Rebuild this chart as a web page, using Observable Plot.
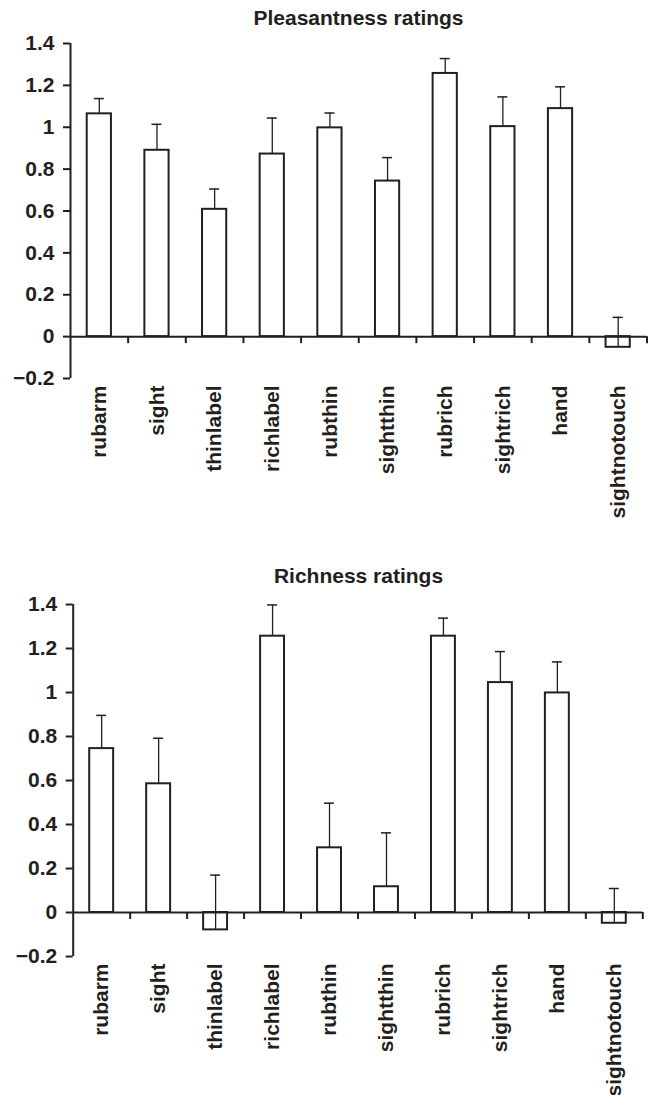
<!DOCTYPE html>
<html>
<head>
<meta charset="utf-8">
<script src="https://cdn.jsdelivr.net/npm/d3@7"></script>
<script src="https://cdn.jsdelivr.net/npm/@observablehq/plot@0.6"></script>
<style>
  html, body { margin: 0; padding: 0; background: #fff; }
  #page { position: relative; width: 649px; height: 1095px; overflow: hidden; background: #fff; }
  .title { position: absolute; left: 70px; width: 577px; text-align: center; z-index: 2;
           font-family: "Liberation Sans", Arial, sans-serif; font-weight: bold;
           font-size: 21px; line-height: 21px; color: #231f20; }
  .chart { position: absolute; left: 0; z-index: 1; }
</style>
</head>
<body>
<div id="page">
  <div class="chart" id="c1" style="top:0px"></div>
  <div class="chart" id="c2" style="top:550px"></div>
  <div class="title" id="t1" style="top:7px"></div>
  <div class="title" id="t2" style="top:565px"></div>
</div>
<script>
const categories = ["rubarm", "sight", "thinlabel", "richlabel", "rubthin", "sightthin", "rubrich", "sightrich", "hand", "sightnotouch"];

const pleasantness      = [1.064, 0.890, 0.608, 0.872, 0.997, 0.743, 1.257, 1.003, 1.089, -0.051];
const pleasantnessUpper = [1.137, 1.014, 0.705, 1.044, 1.068, 0.855, 1.328, 1.145, 1.193, 0.092];

const richness      = [0.745, 0.585, -0.079, 1.256, 0.294, 0.117, 1.256, 1.045, 0.998, -0.049];
const richnessUpper = [0.896, 0.792, 0.170, 1.398, 0.497, 0.362, 1.338, 1.186, 1.139, 0.109];

const yTicks      = [-0.2, 0, 0.2, 0.4, 0.6, 0.8, 1, 1.2, 1.4];
const yTickLabels = ["\u22120.2", "0", "0.2", "0.4", "0.6", "0.8", "1", "1.2", "1.4"];

const titles = ["Pleasantness ratings", "Richness ratings"];

const ink = "#231f20";
const font = "'Liberation Sans', Arial, Helvetica, sans-serif";

function makeChart(values, upper, layout) {
  const data = categories.map((c, i) => ({i, category: c, value: values[i], upper: upper[i]}));
  const boundaries = d3.range(1, categories.length + 1);
  return Plot.plot({
    width: 649,
    height: layout.height,
    marginTop: layout.marginTop,
    marginBottom: layout.marginBottom,
    marginLeft: layout.marginLeft,
    marginRight: layout.marginRight,
    style: {fontFamily: font, color: ink, background: "transparent", overflow: "visible"},
    x: {domain: [0, categories.length], axis: null},
    y: {domain: [-0.2, 1.4], axis: null},
    marks: [
      Plot.rect(data, {x1: d => d.i + 0.29, x2: d => d.i + 0.71, y1: 0, y2: "value",
        fill: "white", stroke: ink, strokeWidth: 2}),
      Plot.ruleY([0], {stroke: ink, strokeWidth: 2}),
      Plot.ruleX(boundaries, {x: d => d, y1: 0, y2: 0, insetBottom: -7, stroke: ink, strokeWidth: 2}),
      Plot.ruleX([0], {stroke: ink, strokeWidth: 2}),
      Plot.axisY({ticks: yTicks, tickSize: 7, tickPadding: 9, strokeWidth: 2,
        tickFormat: d => yTickLabels[yTicks.findIndex(t => Math.abs(t - d) < 1e-9)],
        fontSize: 21, fontWeight: "bold", label: null}),
      Plot.ruleX(data, {x: d => d.i + 0.5, y1: "value", y2: "upper", stroke: ink, strokeWidth: 1.3}),
      Plot.ruleY(data, {y: "upper", x1: d => d.i + 0.5, x2: d => d.i + 0.5,
        insetLeft: -5, insetRight: -5, stroke: ink, strokeWidth: 1.5}),
      Plot.text(data, {x: d => d.i + 0.5, frameAnchor: "bottom", text: "category",
        rotate: -90, textAnchor: "end", lineAnchor: "middle", dy: 7,
        fontSize: 21, fontWeight: "bold", fill: ink})
    ]
  });
}

document.getElementById("t1").textContent = titles[0];
document.getElementById("t2").textContent = titles[1];
document.getElementById("c1").appendChild(makeChart(pleasantness, pleasantnessUpper,
  {height: 545, marginTop: 43, marginBottom: 167, marginLeft: 70, marginRight: 2.5}));
document.getElementById("c2").appendChild(makeChart(richness, richnessUpper,
  {height: 545, marginTop: 54, marginBottom: 139, marginLeft: 72.7, marginRight: 6.7}));
</script>
</body>
</html>
